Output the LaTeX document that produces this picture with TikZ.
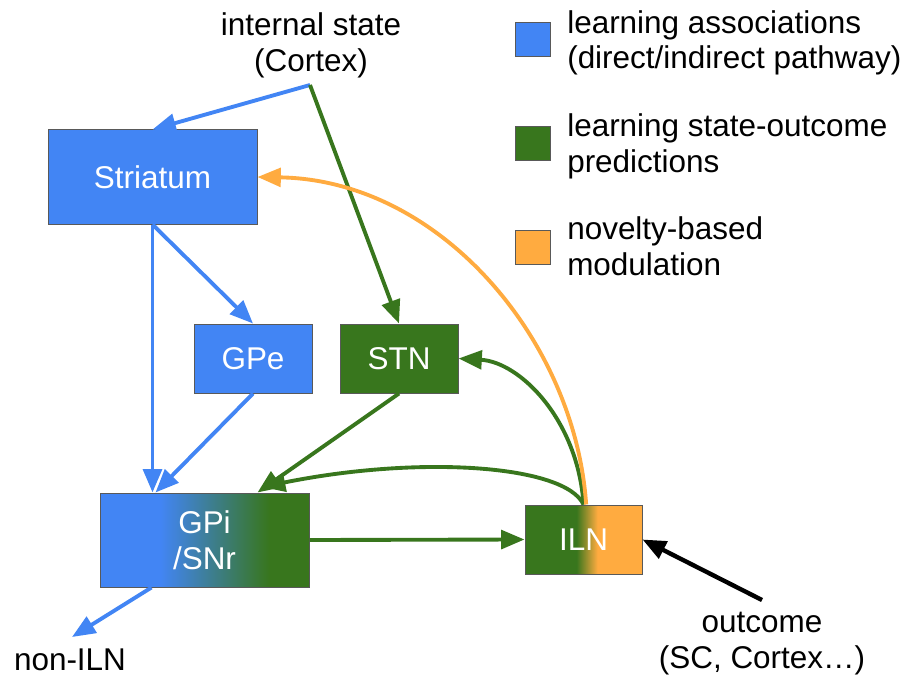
\documentclass[tikz,border=0pt]{standalone}
\usepackage{fontspec}
\setmainfont{Liberation Sans}
\usetikzlibrary{arrows.meta}
\definecolor{gblue}{HTML}{4285F4}
\definecolor{ggreen}{HTML}{38761D}
\definecolor{gorange}{HTML}{FFAB40}
\definecolor{bordergray}{HTML}{595959}
\pgfdeclarehorizontalshading{gpishade}{100bp}{color(0bp)=(gblue); color(39.5bp)=(gblue); color(65.5bp)=(ggreen); color(100bp)=(ggreen)}
\pgfdeclarehorizontalshading{ilnshade}{100bp}{color(0bp)=(ggreen); color(47bp)=(ggreen); color(56bp)=(gorange); color(100bp)=(gorange)}
\begin{document}
\begin{tikzpicture}[x=0.75pt,y=-0.75pt,
  font=\fontsize{23.6}{27}\selectfont,
  box/.style={draw=bordergray, line width=0.75pt, text=white, inner sep=0pt, align=center},
  bigbox/.style={box, minimum width=156.75pt, minimum height=70.5pt},
  smallbox/.style={box, minimum width=88.5pt, minimum height=51.75pt},
  conn/.style={line width=2.9pt, -{Triangle[length=17.5pt,width=14pt]}},
  legsq/.style={draw=bordergray, line width=0.75pt, minimum width=26.25pt, minimum height=25.5pt, inner sep=0pt},
  legtext/.style={inner sep=0pt, align=left, anchor=base west, font=\fontsize{23.6}{26.5}\selectfont},
  plain/.style={inner sep=0pt, align=center, anchor=base}]
\useasboundingbox (0,0) rectangle (920,681);

% boxes
\node[bigbox, fill=gblue] (stri) at (152.5,177) {Striatum};
\node[smallbox, fill=gblue] (gpe) at (253,358.5) {GPe};
\node[smallbox, fill=ggreen] (stn) at (399,358.5) {STN};
\node[bigbox, shade, shading=gpishade] (gpi) at (204.5,540) {GPi\\/SNr};
\node[smallbox, shade, shading=ilnshade, minimum width=87.75pt] (iln) at (583.5,539.5) {ILN};

% labels (base anchor = baseline of the last line)
\node[plain] (cortex) at (311,72) {internal state\\(Cortex)};
\coordinate (cx) at (310,85);
\node[plain] (outc) at (762,668) {outcome\\(SC, Cortex…)};
\coordinate (outsrc) at (762,600);
\node[plain] (nonil) at (70,670) {non-ILN};
\coordinate (nonend) at (72,637);
\coordinate (gpiin) at (262,487);

% legend
\node[legsq, fill=gblue] (lsq1) at (532.5,39.5) {};
\node[legsq, fill=ggreen] (lsq2) at (532.5,143.5) {};
\node[legsq, fill=gorange] (lsq3) at (532.5,247) {};
\node[legtext] (lt1) at (567,69) {learning associations\\(direct/indirect pathway)};
\node[legtext] (lt2) at (567,172) {learning state-outcome\\predictions};
\node[legtext] (lt3) at (567,275) {novelty-based\\modulation};

% connectors
\draw[conn, gblue] (cx) -- (stri.north);
\draw[conn, ggreen] (cx) -- (stn.north);
\draw[conn, gblue] (stri.south) -- (stri.south |- gpi.north);
\draw[conn, gblue] (stri.south) -- (gpe.north);
\draw[conn, gblue] (gpe.south) -- ([xshift=42pt]gpi.north west);
\draw[conn, ggreen] (stn.south) -- ([xshift=-39pt]gpi.north east);
\draw[conn, ggreen] (gpi.east) -- (iln.west);
\draw[conn, ggreen] (iln.north) .. controls (565,465) and (420,455) .. (gpiin);
\draw[conn, ggreen] (iln.north) .. controls (578,420) and (520,362) .. (stn.east);
\draw[conn, gorange] ([xshift=2pt]iln.north) .. controls (575,340) and (440,180) .. (stri.east);
\draw[conn, black, line width=3.3pt] (outsrc) -- (iln.east);
\draw[conn, gblue] ([xshift=39pt]gpi.south west) -- (nonend);
\end{tikzpicture}
\end{document}
